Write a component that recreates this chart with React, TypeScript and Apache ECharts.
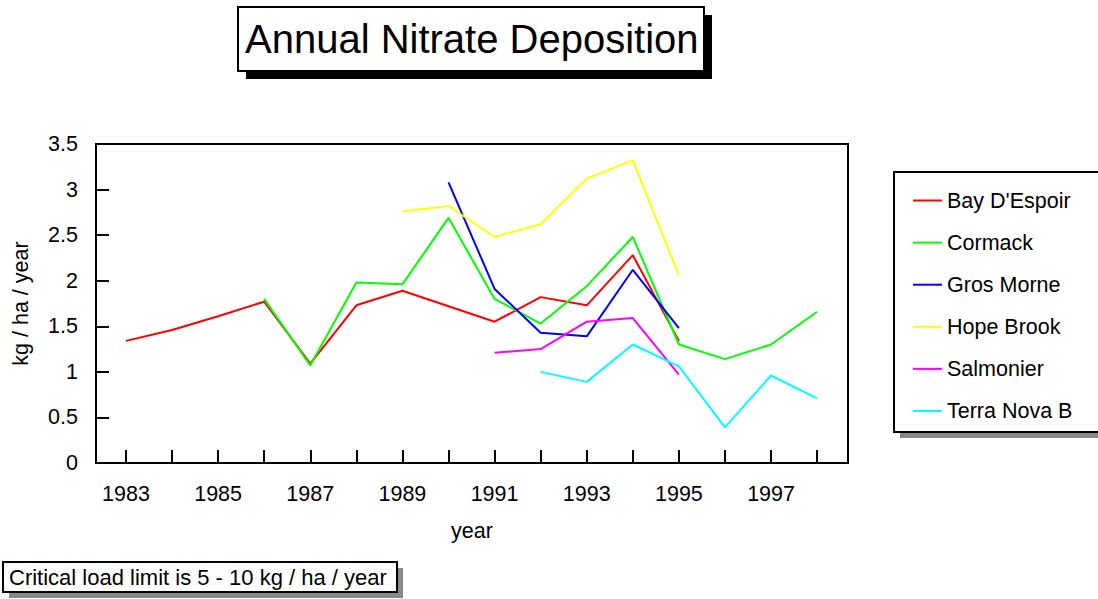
import React, { useEffect, useRef } from "react";
import * as echarts from "echarts";

const tickYears = [1983, 1984, 1985, 1986, 1987, 1988, 1989, 1990, 1991, 1992, 1993, 1994, 1995, 1996, 1997, 1998];
const labelYears = [1983, 1985, 1987, 1989, 1991, 1993, 1995, 1997];

const bayYears = [1983, 1984, 1985, 1986, 1987, 1988, 1989, 1990, 1991, 1992, 1993, 1994, 1995];
const bayValues = [1.34, 1.46, 1.61, 1.77, 1.09, 1.73, 1.89, 1.72, 1.55, 1.82, 1.73, 2.28, 1.34];

const cormackYears = [1986, 1987, 1988, 1989, 1990, 1991, 1992, 1993, 1994, 1995, 1996, 1997, 1998];
const cormackValues = [1.8, 1.07, 1.98, 1.96, 2.69, 1.8, 1.53, 1.94, 2.48, 1.3, 1.14, 1.3, 1.66];

const grosYears = [1990, 1991, 1992, 1993, 1994, 1995];
const grosValues = [3.08, 1.91, 1.43, 1.39, 2.12, 1.48];

const hopeYears = [1989, 1990, 1991, 1992, 1993, 1994, 1995];
const hopeValues = [2.76, 2.82, 2.48, 2.62, 3.12, 3.32, 2.06];

const salmonierYears = [1991, 1992, 1993, 1994, 1995];
const salmonierValues = [1.21, 1.25, 1.55, 1.59, 0.97];

const terraYears = [1992, 1993, 1994, 1995, 1996, 1997, 1998];
const terraValues = [1.0, 0.89, 1.3, 1.06, 0.39, 0.96, 0.71];

const seriesDefs = [
  { name: "Bay D'Espoir", years: bayYears, values: bayValues, color: "#ff0000" },
  { name: "Cormack", years: cormackYears, values: cormackValues, color: "#00ff00" },
  { name: "Gros Morne", years: grosYears, values: grosValues, color: "#0000ff" },
  { name: "Hope Brook", years: hopeYears, values: hopeValues, color: "#ffff00" },
  { name: "Salmonier", years: salmonierYears, values: salmonierValues, color: "#ff00ff" },
  { name: "Terra Nova B", years: terraYears, values: terraValues, color: "#00ffff" },
];

const FONT = "'Liberation Sans', Arial, Helvetica, sans-serif";
const FS = 21.5;

export default function App() {
  const ref = useRef<HTMLDivElement>(null);

  useEffect(() => {
    if (!ref.current) return;
    const chart = echarts.init(ref.current, undefined, { renderer: "svg" });
    const option: any = {
      animation: false,
      backgroundColor: "#ffffff",
      textStyle: { fontFamily: FONT, color: "#000" },
      title: [
        {
          text: "Annual Nitrate Deposition",
          left: 245,
          top: 19,
          padding: 0,
          textStyle: { fontFamily: FONT, fontSize: 40, fontWeight: "normal", color: "#000", lineHeight: 40 },
        },
        {
          text: "Critical load limit is 5 - 10 kg / ha / year",
          left: 9,
          top: 566,
          padding: 0,
          textStyle: { fontFamily: FONT, fontSize: 22, fontWeight: "normal", color: "#000", lineHeight: 22 },
        },
      ],
      graphic: [
        { type: "rect", z: -10, shape: { x: 246, y: 15, width: 466, height: 64 }, style: { fill: "#000" } },
        { type: "rect", z: -9, shape: { x: 238, y: 7, width: 466, height: 64 }, style: { fill: "#fff", stroke: "#000", lineWidth: 2 } },
        { type: "rect", z: -10, shape: { x: 900, y: 178, width: 210, height: 260 }, style: { fill: "#888" } },
        { type: "rect", z: -9, shape: { x: 894, y: 172, width: 210, height: 260 }, style: { fill: "#fff", stroke: "#000", lineWidth: 2 } },
        { type: "rect", z: -10, shape: { x: 9, y: 568, width: 394, height: 30 }, style: { fill: "#888" } },
        { type: "rect", z: -9, shape: { x: 3, y: 562, width: 394, height: 30 }, style: { fill: "#fff", stroke: "#000", lineWidth: 2 } },
      ],
      legend: {
        orient: "vertical",
        left: 913,
        top: 189.5,
        padding: 0,
        icon: "rect",
        itemWidth: 29,
        itemHeight: 2,
        itemGap: 20.1,
        textStyle: { fontFamily: FONT, fontSize: FS, color: "#000", lineHeight: FS },
        data: seriesDefs.map((s) => s.name),
      },
      grid: {
        left: 96,
        top: 144,
        width: 752,
        height: 319,
        show: true,
        borderColor: "#000",
        borderWidth: 2,
        backgroundColor: "transparent",
      },
      xAxis: {
        type: "value",
        min: 1982.35,
        max: 1998.67,
        name: "year",
        nameLocation: "middle",
        nameGap: 57,
        nameTextStyle: { fontFamily: FONT, fontSize: FS, color: "#000" },
        axisLine: { show: true, lineStyle: { color: "#000", width: 2 } },
        axisTick: { show: true, inside: true, length: 13, customValues: tickYears, lineStyle: { color: "#000", width: 2 } },
        axisLabel: {
          show: true,
          customValues: labelYears,
          margin: 20,
          fontFamily: FONT,
          fontSize: FS,
          color: "#000",
          formatter: (v: number) => String(Math.round(v)),
        },
        splitLine: { show: false },
      },
      yAxis: {
        type: "value",
        min: 0,
        max: 3.5,
        interval: 0.5,
        name: "kg / ha / year",
        nameLocation: "middle",
        nameGap: 64,
        nameRotate: 90,
        nameTextStyle: { fontFamily: FONT, fontSize: FS, color: "#000" },
        axisLine: { show: true, lineStyle: { color: "#000", width: 2 } },
        axisTick: { show: true, inside: true, length: 13, lineStyle: { color: "#000", width: 2 } },
        axisLabel: { show: true, margin: 18, fontFamily: FONT, fontSize: FS, color: "#000" },
        splitLine: { show: false },
      },
      series: seriesDefs.map((s) => ({
        name: s.name,
        type: "line",
        data: s.years.map((y, i) => [y, s.values[i]]),
        showSymbol: false,
        symbol: "none",
        color: s.color,
        lineStyle: { color: s.color, width: 2 },
        itemStyle: { color: s.color },
        emphasis: { disabled: true },
      })),
    };
    chart.setOption(option);
    return () => chart.dispose();
  }, []);

  return (
    <div
      ref={ref}
      style={{ position: "fixed", left: 0, top: 0, width: 1098, height: 599, background: "#fff" }}
    />
  );
}
